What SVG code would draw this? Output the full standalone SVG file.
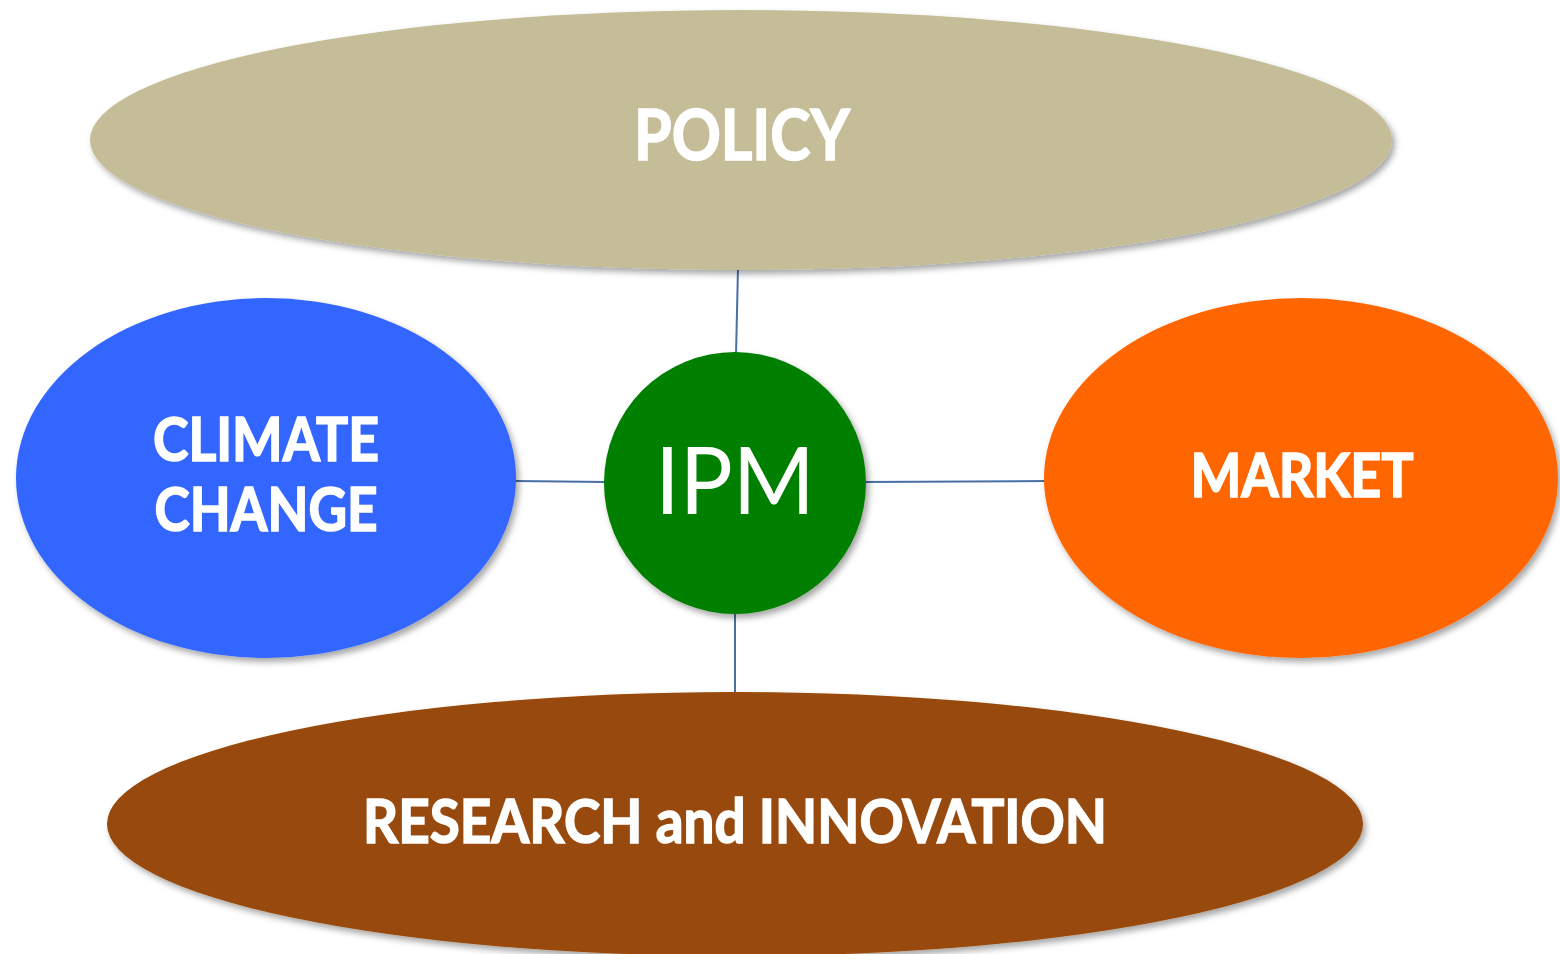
<svg xmlns="http://www.w3.org/2000/svg" width="1560" height="954" viewBox="0 0 1560 954">
<defs>
<filter id="sh" x="-10%" y="-10%" width="120%" height="130%">
<feDropShadow dx="3" dy="4" stdDeviation="3" flood-color="#000" flood-opacity="0.35"/>
</filter>
<style>
.node{filter:url(#sh)}
.lbl{font-family:Lato,"Open Sans","Liberation Sans",sans-serif;font-weight:bold;fill:#fff;stroke:#fff;stroke-width:1.6;text-anchor:middle}
.ipm{font-family:Lato,"Open Sans","Liberation Sans",sans-serif;font-weight:normal;fill:#fff;text-anchor:middle}
.conn line{stroke:#4A6FA5;stroke-width:2}
</style>
</defs>
<rect width="1560" height="954" fill="#fff"/>
<g id="connectors" class="conn">
<line x1="738" y1="268" x2="736" y2="355"/>
<line x1="735" y1="612" x2="735" y2="694"/>
<line x1="515" y1="481" x2="606" y2="482"/>
<line x1="864" y1="482" x2="1046" y2="481"/>
</g>
<g id="policy">
<ellipse class="node" cx="741" cy="140" rx="651" ry="130" fill="#C4BD97"/>
<text class="lbl" x="742" y="160" font-size="70" textLength="216" lengthAdjust="spacingAndGlyphs">POLICY</text>
</g>
<g id="climate">
<ellipse class="node" cx="266" cy="478" rx="250" ry="180" fill="#3366FF"/>
<text class="lbl" x="266" y="461" font-size="61" textLength="226" lengthAdjust="spacingAndGlyphs">CLIMATE</text>
<text class="lbl" x="266" y="531" font-size="61" textLength="223" lengthAdjust="spacingAndGlyphs">CHANGE</text>
</g>
<g id="market">
<ellipse class="node" cx="1301" cy="478" rx="257" ry="180" fill="#FF6600"/>
<text class="lbl" x="1302" y="497" font-size="61" textLength="223" lengthAdjust="spacingAndGlyphs">MARKET</text>
</g>
<g id="research">
<ellipse class="node" cx="735" cy="824" rx="628" ry="132" fill="#984807"/>
<text class="lbl" x="735" y="843" font-size="61" textLength="744" lengthAdjust="spacingAndGlyphs">RESEARCH and INNOVATION</text>
</g>
<g id="ipm">
<circle class="node" cx="735" cy="483" r="131" fill="#007F00"/>
<text class="ipm" x="735" y="514" font-size="93" textLength="160" lengthAdjust="spacingAndGlyphs">IPM</text>
</g>
</svg>
